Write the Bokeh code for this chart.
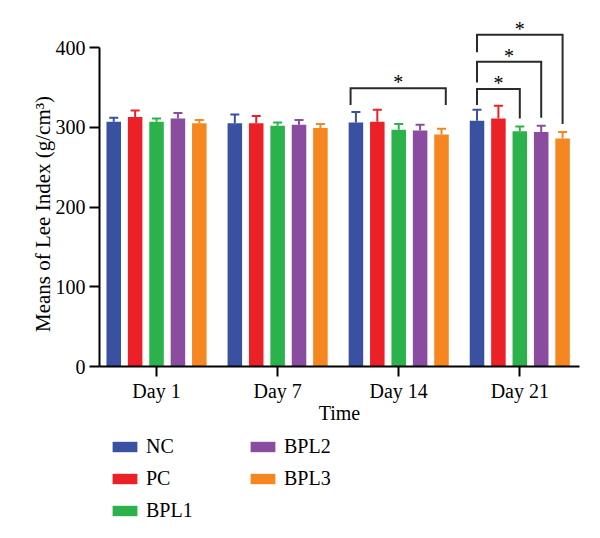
import numpy as np
from bokeh.plotting import figure
from bokeh.models import Range1d, FixedTicker, Label, ColumnDataSource
from bokeh.core.properties import value
from bokeh.embed import file_html
from bokeh.resources import INLINE

# ---- data -------------------------------------------------------------
days = ["Day 1", "Day 7", "Day 14", "Day 21"]
groups = ["NC", "PC", "BPL1", "BPL2", "BPL3"]
colors = ["#3A51A2", "#EC2027", "#2BB24B", "#8A4C9E", "#F6861F"]

nc_mean = [307, 305, 306, 308]
nc_sd = [5, 11, 13, 14]
pc_mean = [313, 305, 307, 311]
pc_sd = [8, 9, 15, 16]
bpl1_mean = [307, 302, 297, 295]
bpl1_sd = [4, 4, 7, 6]
bpl2_mean = [311, 303, 296, 294]
bpl2_sd = [7, 6, 7, 8]
bpl3_mean = [305, 299, 291, 286]
bpl3_sd = [4, 5, 7, 8]

y_ticks = [0, 100, 200, 300, 400]

# significance brackets: day, left/right bar slot, bar height and leg ends
sig_day = [2, 3, 3, 3]
sig_left_slot = [-0.25, 0, 0, 0]
sig_right_slot = [4.2, 2, 3, 4]
sig_top = [349, 348, 382, 416]
sig_left_end = [328, 328, 356, 394]
sig_right_end = [328, 311, 312, 304]
sig_text = ["*", "*", "*", "*"]

means = [nc_mean, pc_mean, bpl1_mean, bpl2_mean, bpl3_mean]
sds = [nc_sd, pc_sd, bpl1_sd, bpl2_sd, bpl3_sd]

# ---- layout constants -------------------------------------------------
W, H = 600, 538
PITCH = 0.1767      # distance between neighbouring bars in a day group
BAR_W = 0.12
FONT = "Liberation Serif"
n_groups = len(groups)

# axes live inside the canvas-wide frame at fixed data locations
X_LO, X_HI = -0.471, 3.493          # x axis extent
AX_LEFT_PX, AX_RIGHT_PX = 99, 579   # where that extent sits on the canvas
ZERO_PX, PX_PER_UNIT = 366, 0.7975  # y = 0 row and vertical scale

ux = (X_HI - X_LO) / (AX_RIGHT_PX - AX_LEFT_PX)
x_range = Range1d(X_LO - AX_LEFT_PX * ux, X_HI + (W - AX_RIGHT_PX) * ux)
y_range = Range1d(-(H - ZERO_PX) / PX_PER_UNIT, ZERO_PX / PX_PER_UNIT)


def slot_x(day, slot):
    return day + (slot - (n_groups - 1) / 2) * PITCH


p = figure(
    width=W, height=H, x_range=x_range, y_range=y_range,
    output_backend="svg", toolbar_location=None, min_border=0,
)
p.outline_line_color = None
p.xgrid.visible = False
p.ygrid.visible = False
p.background_fill_color = "white"
p.border_fill_color = "white"

day_idx = np.arange(len(days))
for k, (name, col) in enumerate(zip(groups, colors)):
    m = np.array(means[k], dtype=float)
    s = np.array(sds[k], dtype=float)
    xs = slot_x(day_idx, k)
    src = ColumnDataSource(dict(x=xs, top=m, upper=m + s))
    p.vbar(x="x", top="top", bottom=0, width=BAR_W, source=src,
           fill_color=col, line_color=None, legend_label=name)
    p.segment(x0="x", y0="top", x1="x", y1="upper", source=src,
              line_color=col, line_width=2)
    p.scatter(x="x", y="upper", source=src, marker="dash", size=9,
              line_color=col, line_width=2)

# significance brackets
bx, by, sx, sy = [], [], [], []
for d, ls, rs, top, le, re in zip(sig_day, sig_left_slot, sig_right_slot,
                                  sig_top, sig_left_end, sig_right_end):
    xl, xr = slot_x(d, ls), slot_x(d, rs)
    bx.append([xl, xl, xr, xr])
    by.append([le, top, top, re])
    sx.append((xl + xr) / 2)
    sy.append(top)
p.multi_line(xs=bx, ys=by, line_color="#2a2a2a", line_width=2,
             line_join="miter")
p.text(x=sx, y=sy, text=sig_text, text_font=value(FONT),
       text_font_size="20px", text_align="center",
       text_baseline="alphabetic", y_offset=-6, text_color="black")

# axes
for ax in (p.xaxis, p.yaxis):
    ax.axis_line_width = 2
    ax.axis_line_color = "black"
    ax.major_tick_line_width = 2
    ax.major_tick_line_color = "black"
    ax.major_tick_out = 10
    ax.major_tick_in = 0
    ax.minor_tick_line_color = None
    ax.major_label_text_font = FONT
    ax.major_label_text_font_size = "20px"
    ax.major_label_text_color = "black"

p.yaxis.ticker = FixedTicker(ticks=y_ticks)
p.yaxis.bounds = (y_ticks[0], y_ticks[-1])
p.yaxis.fixed_location = X_LO
p.yaxis.major_label_standoff = 4

p.xaxis.ticker = FixedTicker(ticks=list(range(len(days))))
p.xaxis.major_label_overrides = {i: d for i, d in enumerate(days)}
p.xaxis.bounds = (X_LO, X_HI)
p.xaxis.fixed_location = 0
p.xaxis.major_label_standoff = 3
p.xaxis.axis_label = "Time"
p.xaxis.axis_label_text_font = FONT
p.xaxis.axis_label_text_font_size = "20px"
p.xaxis.axis_label_text_font_style = "normal"
p.xaxis.axis_label_text_color = "black"
p.xaxis.axis_label_standoff = -3

# y axis title
p.add_layout(Label(
    x=42, y=H - 213.5, x_units="screen", y_units="screen",
    text="Means of Lee Index (g/cm³)", angle=np.pi / 2,
    text_align="center", text_baseline="alphabetic",
    text_font=FONT, text_font_size="21px", text_color="black",
))

# legend, two columns under the axis
ROW_H, ROW_GAP, N_ROWS = 23, 9, 3
LEGEND_TOP_PX = 434.5
legend_h = N_ROWS * ROW_H + (N_ROWS - 1) * ROW_GAP
lg = p.legend[0]
lg.location = (109, H - LEGEND_TOP_PX - legend_h)
lg.nrows = N_ROWS
lg.glyph_width = 31
lg.glyph_height = 13
lg.label_height = ROW_H
lg.label_width = 92
lg.label_standoff = 6
lg.spacing = ROW_GAP
lg.padding = 0
lg.margin = 0
lg.border_line_color = None
lg.background_fill_alpha = 0
lg.label_text_font = FONT
lg.label_text_font_size = "20px"
lg.label_text_color = "black"

open("out.html", "w").write(file_html(p, INLINE))
